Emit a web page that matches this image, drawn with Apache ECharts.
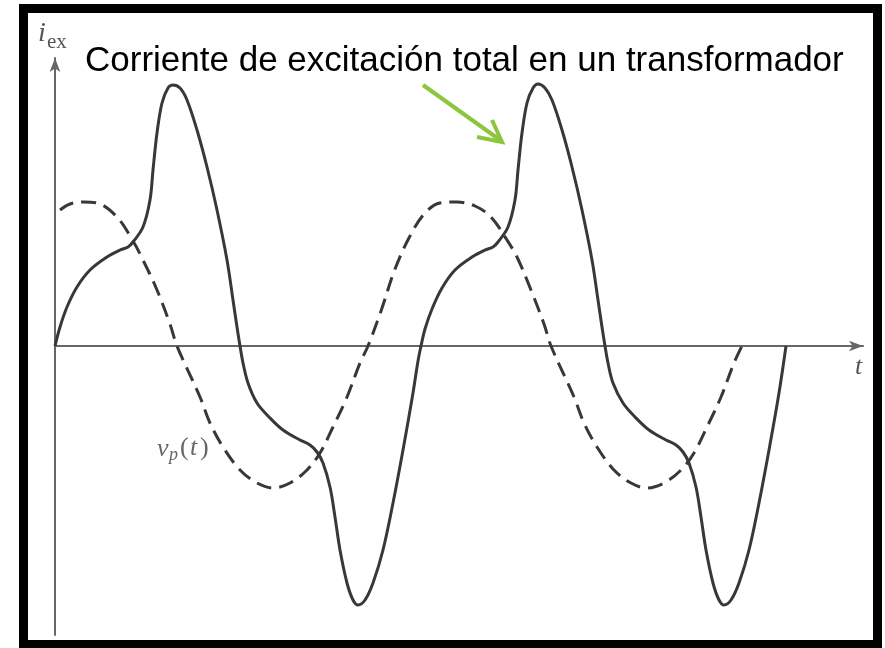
<!DOCTYPE html>
<html>
<head>
<meta charset="utf-8">
<script src="https://cdn.jsdelivr.net/npm/echarts@6/dist/echarts.min.js"></script>
<style>
  html, body { margin: 0; padding: 0; background: #fff; }
  #chart { width: 885px; height: 648px; }
</style>
</head>
<body>
<div id="chart"></div>
<script>
// corriente de excitacion i_ex (linea continua)
var iexT = [0, 5, 12, 22, 35, 52, 65, 73, 78, 88, 95, 98, 102, 107, 113, 118, 125, 132, 142, 152, 162, 172, 178, 182, 185,
  188, 193, 202, 215, 228, 245, 255, 262, 268, 275, 280, 285, 292, 298, 303, 310, 318, 328, 338, 348, 358, 363, 366,
  370, 377, 387, 400, 417, 430, 438, 443, 453, 460, 463, 467, 472, 478, 483, 490, 497, 507, 517, 527, 537, 543, 547, 550,
  553, 558, 568, 581, 594, 611, 621, 628, 634, 641, 646, 651, 658, 664, 669, 676, 684, 694, 704, 714, 724, 731];
var iexV = [0, 19, 39, 59, 76, 89, 96, 99, 104, 119, 146, 176, 213, 243, 258, 261, 258, 246, 216, 179, 136, 86, 46, 19, 0,
  -17, -37, -57, -72, -84, -94, -99, -106, -117, -141, -171, -204, -237, -254, -259, -254, -237, -204, -157, -104, -47, -15, 0,
  17, 37, 58, 76, 89, 96, 99, 104, 119, 146, 176, 213, 243, 258, 262, 258, 246, 216, 179, 136, 86, 46, 19, 0,
  -17, -37, -57, -72, -84, -94, -99, -106, -117, -141, -171, -204, -237, -254, -259, -254, -237, -204, -157, -104, -47, 0];

// tension primaria v_p(t) (linea discontinua)
var vpT = [5, 15, 28, 42, 62, 78, 88, 102, 115, 122, 145, 155, 168, 185, 202, 218, 235, 252, 265, 278, 292, 305, 313,
  326, 340, 355, 370, 385, 402, 420, 436, 452, 462, 476, 489, 496, 519, 529, 542, 559, 576, 592, 609, 626, 639, 652, 666, 679, 687];
var vpV = [136, 142, 144, 143, 129, 105, 86, 56, 22, 0, -51, -77, -101, -124, -137, -142, -137, -124, -107, -81, -51, -17, 0,
  35, 77, 110, 133, 143, 144, 140, 129, 106, 89, 56, 22, 0, -51, -77, -101, -124, -137, -142, -137, -124, -107, -81, -51, -17, 0];

var tMax = 808, vMin = -289, vMax = 288;

var chart = echarts.init(document.getElementById('chart'));

var iexData = iexT.map(function (t, i) { return [t, iexV[i]]; });
var vpData = vpT.map(function (t, i) { return [t, vpV[i]]; });

var serif = '"Liberation Serif", "DejaVu Serif", serif';
var gray = '#555';

var option = {
  animation: false,
  backgroundColor: '#fff',
  grid: { left: 55, right: 22, top: 58, bottom: 13 },
  xAxis: {
    type: 'value', min: 0, max: tMax,
    axisLine: { show: true, onZero: true, symbol: ['none', 'arrow'], symbolSize: [8, 14],
      lineStyle: { color: '#666', width: 2 } },
    axisTick: { show: false }, axisLabel: { show: false }, splitLine: { show: false }
  },
  yAxis: {
    type: 'value', min: vMin, max: vMax,
    axisLine: { show: true, onZero: false, symbol: ['none', 'arrow'], symbolSize: [8, 14],
      lineStyle: { color: '#666', width: 2 } },
    axisTick: { show: false }, axisLabel: { show: false }, splitLine: { show: false }
  },
  series: [
    {
      name: 'i_ex', type: 'line', data: iexData, showSymbol: false, smooth: 0.35,
      lineStyle: { color: '#383838', width: 3 }, z: 3
    },
    {
      name: 'v_p(t)', type: 'line', data: vpData, showSymbol: false, smooth: 0.35,
      lineStyle: { color: '#383838', width: 3, type: [15, 8] }, z: 2
    }
  ],
  graphic: [
    // titulo
    { type: 'text', left: 85, top: 44, z: 10,
      style: { text: 'Corriente de excitación total en un transformador', fill: '#000',
        font: '35px "Liberation Sans", Arial, sans-serif' } },
    // etiqueta eje y
    { type: 'text', x: 38, y: 34, z: 10,
      style: { text: 'i', fill: gray, font: 'italic 28px ' + serif, verticalAlign: 'middle' } },
    { type: 'text', x: 47, y: 42, z: 10,
      style: { text: 'ex', fill: gray, font: '21px ' + serif, verticalAlign: 'middle' } },
    // etiqueta eje t
    { type: 'text', x: 855, y: 367, z: 10,
      style: { text: 't', fill: gray, font: 'italic 26px ' + serif, verticalAlign: 'middle' } },
    // etiqueta v_p(t)
    { type: 'text', x: 157, y: 449, z: 10,
      style: { text: 'v', fill: '#666', font: 'italic 26px ' + serif, verticalAlign: 'middle' } },
    { type: 'text', x: 169, y: 455, z: 10,
      style: { text: 'p', fill: '#666', font: 'italic 18px ' + serif, verticalAlign: 'middle' } },
    { type: 'text', x: 180, y: 448, z: 10,
      style: { text: '(', fill: '#666', font: '26px ' + serif, verticalAlign: 'middle' } },
    { type: 'text', x: 190, y: 448, z: 10,
      style: { text: 't', fill: '#666', font: 'italic 26px ' + serif, verticalAlign: 'middle' } },
    { type: 'text', x: 200, y: 448, z: 10,
      style: { text: ')', fill: '#666', font: '26px ' + serif, verticalAlign: 'middle' } },
    // flecha verde
    { type: 'line', z: 10, shape: { x1: 423, y1: 85, x2: 500, y2: 140 },
      style: { stroke: '#8cc63f', lineWidth: 4 } },
    { type: 'polyline', z: 10, shape: { points: [[477, 137], [502, 142], [492, 120]] },
      style: { stroke: '#8cc63f', lineWidth: 4, fill: null } },
    // marco negro
    { type: 'rect', z: 20, shape: { x: 23.5, y: 8.5, width: 854, height: 636 },
      style: { fill: null, stroke: '#000', lineWidth: 9 } }
  ]
};

chart.setOption(option);
</script>
</body>
</html>
